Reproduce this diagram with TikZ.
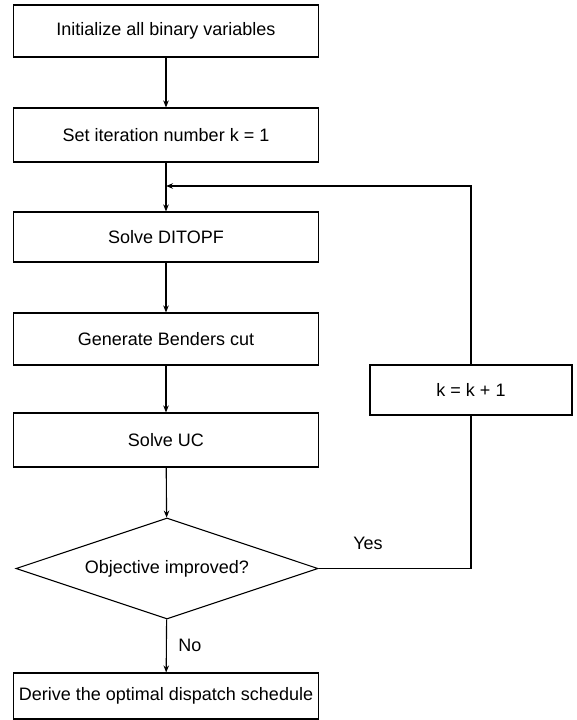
\documentclass[tikz,border=0pt]{standalone}
\usepackage{fontspec}
\setmainfont{Liberation Sans}
\usetikzlibrary{arrows.meta,shapes.geometric}
\begin{document}
\begin{tikzpicture}[x=1pt,y=-1pt,
  box/.style={draw, line width=1.1pt, minimum width=305pt, minimum height=52pt, inner sep=0pt, font=\fontsize{18}{20}\selectfont},
  kbox/.style={draw, line width=1.1pt, minimum width=202pt, minimum height=50pt, inner sep=0pt, font=\fontsize{18}{20}\selectfont},
  decision/.style={draw, diamond, line width=1.1pt, minimum width=302pt, minimum height=101pt, inner sep=0pt, aspect=3, font=\fontsize{18}{20}\selectfont},
  conn/.style={line width=1.1pt},
  arr/.style={conn, -{Stealth[length=7pt,width=5.5pt]}},
  lbl/.style={font=\fontsize{18}{20}\selectfont}]
\useasboundingbox (0,0) rectangle (577,720);
\node[box] (b1) at (166,31) {Initialize all binary variables};
\node[box, minimum height=54pt] (b2) at (166,135) {Set iteration number k = 1};
\node[box, minimum height=50pt] (b3) at (166,237) {Solve DITOPF};
\node[box] (b4) at (166,339) {Generate Benders cut};
\node[box, minimum height=54pt] (b5) at (166,440) {Solve UC};
\node[decision] (d) at (167,568.5) {Objective improved?};
\node[box, minimum height=46pt] (b6) at (166,696) {Derive the optimal dispatch schedule};
\node[kbox] (k) at (471,390) {k = k + 1};
\coordinate (merge) at (166,186);
\draw[arr] (b1) -- (b2);
\draw[conn] (b2) -- (merge);
\draw[arr] (merge) -- (b3);
\draw[arr] (b3) -- (b4);
\draw[arr] (b4) -- (b5);
\draw[arr] (b5) -- (d);
\draw[arr] (d) -- (b6);
\node[lbl] (no) at (190,645) {No};
\draw[conn] (d.east) -| (k.south);
\node[lbl] (yes) at (368,543) {Yes};
\draw[arr] (k.north) |- (merge);
\end{tikzpicture}
\end{document}
